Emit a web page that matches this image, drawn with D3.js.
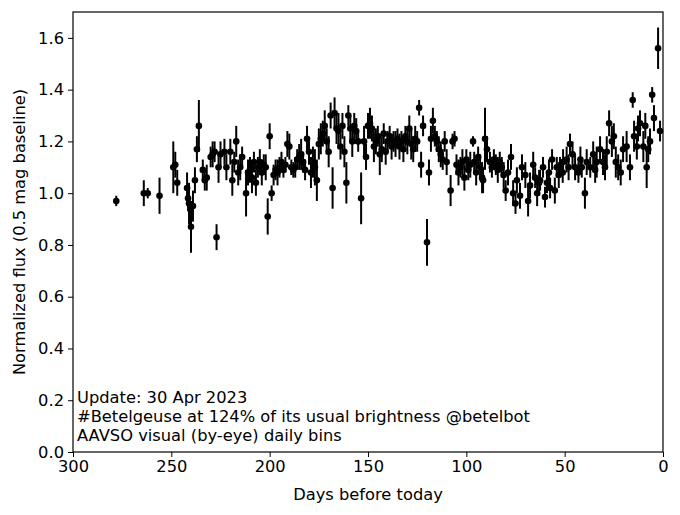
<html>
  <head>
    <title>Betelgeuse flux</title>
    <script src="https://d3js.org/d3.v7.min.js"></script>
  </head>
  <body>
    <svg id="chart" width="680" height="515"></svg>
    <script>
      // days before today, normalized flux and error
      const days = [278, 264, 262, 256, 249, 248, 247, 242, 241.5, 241, 240, 239, 238, 237, 236, 234, 233, 232, 230, 229,
        228, 227, 226, 225, 223, 222, 220, 219, 218, 217, 216, 215, 214, 212, 211, 210, 209, 208, 207, 206,
        205, 204, 203, 202, 201, 200, 199, 198, 197, 196, 195, 194, 193, 192, 191, 190, 189, 188, 187, 186,
        185, 184, 183, 182, 181, 180, 179, 178, 177, 176, 175, 174, 173, 172, 171, 170, 169, 168, 167, 166,
        165, 164, 163, 162, 161, 160, 159, 158, 157, 156, 155, 153.5, 152, 151, 150, 149, 148, 147, 146, 145,
        144, 143, 142, 141, 140, 139, 138, 137, 136, 135, 134, 133, 132, 131, 130, 129, 128, 127, 126, 125,
        124, 123, 122, 120, 119, 118, 117, 116, 115, 114, 113, 112, 111, 110, 108, 107, 106, 105, 104, 103,
        102, 101, 100, 99, 98, 96.6, 96, 95, 94, 93, 92, 91.5, 90.5, 89.5, 88, 87, 86, 85, 84, 83,
        82, 81, 80, 78.8, 77.3, 76.2, 75, 74.3, 72.7, 71.7, 70, 68.6, 67.6, 66, 65, 64, 63, 62.5, 61, 60,
        59, 58, 57.4, 56.4, 55, 54, 53, 52.4, 51, 50.8, 49, 48, 47.3, 46, 44.7, 43, 42, 41.3, 39.7, 38.8,
        37, 35.5, 34.5, 33.7, 32, 30.5, 29.5, 28.6, 27.4, 26, 25, 24, 22.8, 21.5, 20.3, 18.5, 16.8, 15.4, 14.7, 13.3,
        12.7, 11.7, 10, 9, 8.3, 7.5, 6.6, 5.5, 4.6, 2.5, 1.5];
      const flux = [0.97, 1.00, 1.00, 0.99, 1.10, 1.11, 1.04, 1.02, 0.98, 0.96, 0.87, 0.95, 1.05, 1.17, 1.26, 1.09, 1.05, 1.06, 1.14, 1.15,
        1.16, 0.83, 1.10, 1.15, 1.16, 1.10, 1.16, 1.05, 1.12, 1.20, 1.08, 1.10, 1.14, 1.00, 1.08, 1.09, 1.06, 1.12, 1.04, 1.10,
        1.12, 1.08, 1.11, 1.10, 0.91, 1.22, 1.00, 1.07, 1.09, 1.08, 1.10, 1.12, 1.09, 1.11, 1.19, 1.18, 1.10, 1.09, 1.10, 1.13,
        1.14, 1.15, 1.12, 1.09, 1.21, 1.16, 1.08, 1.12, 1.10, 1.05, 1.19, 1.21, 1.23, 1.26, 1.20, 1.16, 1.30, 1.02, 1.31, 1.25,
        1.24, 1.18, 1.26, 1.16, 1.04, 1.30, 1.25, 1.20, 1.26, 1.24, 1.20, 0.98, 1.20, 1.14, 1.26, 1.27, 1.25, 1.18, 1.20, 1.22,
        1.15, 1.17, 1.23, 1.16, 1.20, 1.22, 1.18, 1.20, 1.19, 1.21, 1.18, 1.20, 1.17, 1.22, 1.20, 1.25, 1.19, 1.17, 1.21, 1.20,
        1.33, 1.11, 1.26, 0.81, 1.08, 1.21, 1.28, 1.22, 1.20, 1.17, 1.15, 1.13, 1.20, 1.12, 1.01, 1.20, 1.21, 1.11, 1.08, 1.10,
        1.12, 1.06, 1.13, 1.09, 1.11, 1.20, 1.12, 1.08, 1.14, 1.10, 1.06, 1.05, 1.21, 1.17, 1.12, 1.10, 1.13, 1.11, 1.09, 1.12,
        1.10, 1.07, 1.01, 1.08, 1.14, 1.00, 0.96, 1.05, 0.99, 1.10, 1.07, 0.97, 1.03, 1.11, 1.06, 1.00, 1.04, 1.05, 1.10, 0.985,
        1.04, 1.08, 1.02, 1.13, 1.01, 1.10, 1.07, 1.10, 1.08, 1.12, 1.13, 1.10, 1.19, 1.15, 1.10, 1.08, 1.13, 1.10, 1.00, 1.12,
        1.10, 1.15, 1.09, 1.12, 1.17, 1.12, 1.10, 1.16, 1.27, 1.20, 1.22, 1.12, 1.10, 1.08, 1.17, 1.18, 1.10, 1.36, 1.22, 1.18,
        1.25, 1.27, 1.18, 1.26, 1.10, 1.17, 1.20, 1.38, 1.29, 1.56, 1.24];
      const fluxErr = [0.02, 0.05, 0.02, 0.07, 0.10, 0.05, 0.05, 0.06, 0.05, 0.08, 0.10, 0.06, 0.05, 0.05, 0.10, 0.04, 0.04, 0.05, 0.04, 0.05,
        0.04, 0.05, 0.06, 0.05, 0.05, 0.05, 0.05, 0.06, 0.04, 0.06, 0.05, 0.05, 0.04, 0.09, 0.05, 0.05, 0.06, 0.04, 0.05, 0.04,
        0.05, 0.05, 0.04, 0.05, 0.07, 0.05, 0.03, 0.04, 0.04, 0.05, 0.04, 0.04, 0.03, 0.03, 0.05, 0.05, 0.03, 0.03, 0.04, 0.04,
        0.05, 0.06, 0.04, 0.04, 0.05, 0.05, 0.06, 0.06, 0.07, 0.08, 0.06, 0.06, 0.05, 0.06, 0.05, 0.06, 0.05, 0.08, 0.06, 0.06,
        0.07, 0.05, 0.05, 0.06, 0.08, 0.04, 0.05, 0.06, 0.05, 0.05, 0.04, 0.10, 0.06, 0.05, 0.05, 0.06, 0.05, 0.06, 0.05, 0.04,
        0.08, 0.05, 0.04, 0.05, 0.04, 0.04, 0.05, 0.04, 0.05, 0.04, 0.05, 0.04, 0.05, 0.04, 0.05, 0.05, 0.06, 0.05, 0.05, 0.04,
        0.03, 0.05, 0.04, 0.09, 0.05, 0.05, 0.05, 0.04, 0.04, 0.05, 0.05, 0.04, 0.04, 0.05, 0.06, 0.03, 0.03, 0.04, 0.05, 0.04,
        0.05, 0.05, 0.04, 0.04, 0.05, 0.02, 0.04, 0.05, 0.04, 0.05, 0.06, 0.05, 0.12, 0.05, 0.04, 0.04, 0.04, 0.04, 0.05, 0.04,
        0.04, 0.05, 0.04, 0.05, 0.05, 0.05, 0.04, 0.05, 0.05, 0.05, 0.05, 0.06, 0.05, 0.05, 0.04, 0.05, 0.05, 0.04, 0.04, 0.04,
        0.04, 0.05, 0.04, 0.04, 0.05, 0.04, 0.05, 0.04, 0.04, 0.05, 0.05, 0.05, 0.04, 0.05, 0.05, 0.04, 0.05, 0.04, 0.06, 0.05,
        0.04, 0.05, 0.05, 0.06, 0.05, 0.05, 0.05, 0.06, 0.05, 0.06, 0.05, 0.06, 0.05, 0.05, 0.05, 0.06, 0.05, 0.03, 0.06, 0.05,
        0.05, 0.05, 0.06, 0.05, 0.08, 0.05, 0.05, 0.03, 0.05, 0.08, 0.04];

      const xTicks = [300, 250, 200, 150, 100, 50, 0];
      const yTicks = [0.0, 0.2, 0.4, 0.6, 0.8, 1.0, 1.2, 1.4, 1.6];
      const noteLines = ['Update: 30 Apr 2023',
        '#Betelgeuse at 124% of its usual brightness @betelbot',
        'AAVSO visual (by-eye) daily bins'];

      const svg = d3.select('svg#chart');
      const width = svg.attr('width');
      const height = svg.attr('height');
      const margins = {top: 12, right: 17, bottom: 63, left: 73};
      const chartWidth = width - margins.left - margins.right;
      const chartHeight = height - margins.top - margins.bottom;
      const font = 'DejaVu Sans, sans-serif';
      const fontSize = 16.3;

      svg.append('rect').attr('width', width).attr('height', height).attr('fill', 'white');

      let chartArea = svg.append('g')
                          .attr('transform', `translate(${margins.left}, ${margins.top})`);

      // x runs backwards: 300 days ago on the left, today on the right
      const xScale = d3.scaleLinear().domain([300, 0]).range([0, chartWidth]);
      const yScale = d3.scaleLinear().domain([0, 1.7]).range([chartHeight, 0]);

      const data = days.map((d, i) => ({day: d, flux: flux[i], err: fluxErr[i]}));

      // error bars
      chartArea.selectAll('line.err').data(data).join('line')
        .attr('class', 'err')
        .attr('x1', d => xScale(d.day)).attr('x2', d => xScale(d.day))
        .attr('y1', d => yScale(d.flux - d.err)).attr('y2', d => yScale(d.flux + d.err))
        .attr('stroke', 'black').attr('stroke-width', 2);

      chartArea.selectAll('circle').data(data).join('circle')
        .attr('cx', d => xScale(d.day))
        .attr('cy', d => yScale(d.flux))
        .attr('r', 3.3)
        .attr('fill', 'black');

      // axes
      let bottomAxis = d3.axisBottom(xScale).tickValues(xTicks).tickSize(5).tickPadding(3).tickFormat(d3.format('d'));
      let xg = chartArea.append('g')
        .attr('transform', `translate(0, ${chartHeight})`)
        .call(bottomAxis);

      let leftAxis = d3.axisLeft(yScale).tickValues(yTicks).tickSize(5).tickPadding(4).tickFormat(d3.format('.1f'));
      let yg = chartArea.append('g').call(leftAxis);

      [xg, yg].forEach(g => {
        g.select('.domain').remove();
        g.selectAll('line').attr('stroke', 'black').attr('stroke-width', 1);
        g.selectAll('text').attr('font-family', font).attr('font-size', fontSize).attr('fill', 'black');
      });

      // frame
      chartArea.append('rect')
        .attr('width', chartWidth).attr('height', chartHeight)
        .attr('fill', 'none').attr('stroke', 'black').attr('stroke-width', 1.2);

      // labels
      svg.append('text')
        .attr('x', margins.left + chartWidth / 2).attr('y', 500)
        .attr('text-anchor', 'middle')
        .attr('font-family', font).attr('font-size', fontSize)
        .text('Days before today');

      svg.append('text')
        .attr('transform', `translate(25, ${margins.top + chartHeight / 2}) rotate(-90)`)
        .attr('text-anchor', 'middle')
        .attr('font-family', font).attr('font-size', fontSize)
        .text('Normalized flux (0.5 mag baseline)');

      noteLines.forEach((t, i) => {
        chartArea.append('text')
          .attr('x', 4).attr('y', 391 + i * 19)
          .attr('font-family', font).attr('font-size', fontSize)
          .text(t);
      });
    </script>
  </body>
  <style>
    body { margin: 0; }
  </style>
</html>
